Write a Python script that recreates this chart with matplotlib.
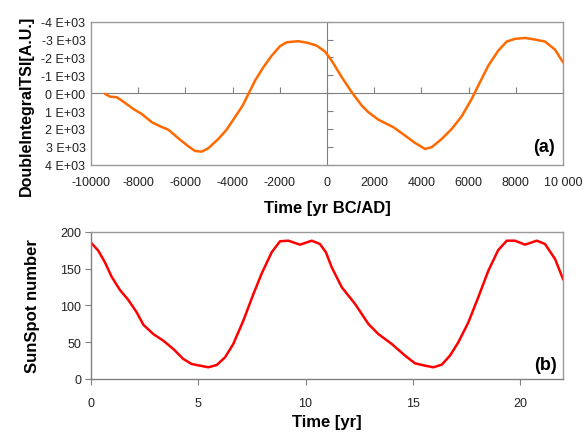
import matplotlib
matplotlib.use("Agg")
import matplotlib.pyplot as plt
from matplotlib.ticker import FuncFormatter, FixedLocator

plt.rcParams['font.family'] = ['Liberation Sans', 'DejaVu Sans']

# Panel (a): double integral of TSI
tsi_year = [-9407, -9195, -8912, -8631, -8208, -7852, -7428, -7076, -6724, -6301,
            -5877, -5593, -5310, -5030, -4606, -4254, -3898, -3573, -3292, -3051,
            -2699, -2343, -1992, -1708, -1216, -792, -437, -85, 199, 623, 1047,
            1470, 1750, 2174, 2809, 3305, 3729, 4153, 4436, 4860, 5284, 5708,
            6131, 6411, 6835, 7258, 7614, 7966, 8390, 8814, 9237, 9661, 10000]
tsi_value = [40, 190, 225, 470, 880, 1160, 1620, 1850, 2040, 2520,
             2970, 3230, 3270, 3080, 2560, 2040, 1340, 690, -60, -700,
             -1450, -2100, -2630, -2850, -2910, -2810, -2660, -2330, -1820, -900, -60,
             690, 1060, 1480, 1900, 2370, 2780, 3120, 3020, 2560, 2000, 1290,
             320, -430, -1540, -2380, -2890, -3040, -3090, -3000, -2890, -2440, -1730]
tsi_yticks = [-4000, -3000, -2000, -1000, 0, 1000, 2000, 3000, 4000]
tsi_xticks = [-10000, -8000, -6000, -4000, -2000, 0, 2000, 4000, 6000, 8000, 10000]

# Panel (b): sunspot number
ss_time = [0.03, 0.34, 0.65, 0.96, 1.35, 1.74, 2.13, 2.44, 2.90, 3.37, 3.84, 4.30,
           4.69, 5.08, 5.47, 5.86, 6.25, 6.63, 7.10, 7.57, 7.96, 8.42, 8.81, 9.2,
           9.74, 10.29, 10.67, 10.95, 11.22, 11.69, 12.31, 12.93, 13.39, 14.02, 14.64,
           15.1, 15.57, 15.96, 16.35, 16.73, 17.12, 17.59, 18.05, 18.52, 18.98,
           19.38, 19.76, 20.23, 20.78, 21.16, 21.63, 22.0]
ss_value = [184.2, 174.2, 158.4, 138.9, 120.8, 107.3, 90.5, 73.7, 61.1, 52, 40.7, 27.2,
            20.4, 18.1, 15.9, 19, 29.5, 47.5, 79.2, 115.4, 143.5, 172, 187, 187.8,
            182.4, 187.8, 183.3, 172, 151.6, 124.5, 101.8, 74.7, 61.1, 47.5, 31.7,
            21.3, 18.1, 15.9, 19.5, 31.7, 49.8, 77, 110.9, 147, 175.1,
            187.8, 187.8, 182.4, 187.8, 183.3, 162.9, 135.8]
ss_yticks = [0, 50, 100, 150, 200]
ss_xticks = [0, 5, 10, 15, 20]

W, H = 587, 435
fig = plt.figure(figsize=(W / 100, H / 100), dpi=100)

box_color = '#9a9a9a'
axis_color = '#808080'
tick_color = '#222222'

# ---------- Panel (a) ----------
pos_a = [91 / W, 1 - 165.7 / H, (563 - 91) / W, (165.7 - 22.7) / H]
ax = fig.add_axes(pos_a)
ax.plot(tsi_year, tsi_value, color='#ff6a00', lw=1.8, solid_capstyle='round',
        solid_joinstyle='round')
ax.set_xlim(-10000, 10000)
ax.set_ylim(4000, -4000)
ax.xaxis.set_major_locator(FixedLocator(tsi_xticks))
ax.yaxis.set_major_locator(FixedLocator(tsi_yticks))

def fmt_x(v, p):
    v = int(round(v))
    if v == 10000:
        return '10 000'
    return str(v)

def fmt_y(v, p):
    v = int(round(v))
    if v == 0:
        return '0 E+00'
    return '%d E+03' % (v // 1000 if v > 0 else -((-v) // 1000))

ax.xaxis.set_major_formatter(FuncFormatter(fmt_x))
ax.yaxis.set_major_formatter(FuncFormatter(fmt_y))
ax.tick_params(length=0, labelsize=9, colors=tick_color, pad=8)
ax.tick_params(axis='y', pad=4)
for s in ax.spines.values():
    s.set_color(box_color)
    s.set_linewidth(1.0)
ax.set_xlabel('Time [yr BC/AD]', fontsize=12, fontweight='bold')
ax.set_ylabel('DoubleIntegralTSI[A.U.]', fontsize=11.5, fontweight='bold')
ax.xaxis.set_label_coords(0.5, -0.245)
ax.yaxis.set_label_coords(-0.122, 0.417)
ax.text(0.983, 0.124, '(a)', transform=ax.transAxes, ha='right', va='center',
        fontsize=13, fontweight='bold')

# overlay axes for the zero lines with ticks
ax2 = fig.add_axes(pos_a, sharex=ax, sharey=ax)
ax2.patch.set_visible(False)
ax2.spines['top'].set_visible(False)
ax2.spines['right'].set_visible(False)
ax2.spines['bottom'].set_position(('data', 0))
ax2.spines['left'].set_position(('data', 0))
ax2.spines['bottom'].set_color(axis_color)
ax2.spines['left'].set_color(axis_color)
ax2.tick_params(direction='in', length=4, color=axis_color,
                labelbottom=False, labelleft=False)
ax2.set_zorder(0)
ax.set_zorder(1)
ax.patch.set_visible(False)

# ---------- Panel (b) ----------
pos_b = [91 / W, 1 - 380 / H, (563 - 91) / W, (380 - 232.7) / H]
bx = fig.add_axes(pos_b)
bx.plot(ss_time, ss_value, color='#ff0000', lw=1.8, solid_joinstyle='round')
bx.set_xlim(0, 22)
bx.set_ylim(0, 200)
bx.xaxis.set_major_locator(FixedLocator(ss_xticks))
bx.yaxis.set_major_locator(FixedLocator(ss_yticks))
bx.tick_params(direction='out', length=4, color=axis_color, labelsize=9,
               labelcolor=tick_color)
bx.tick_params(axis='x', pad=9)
bx.tick_params(axis='y', pad=3)
for s in bx.spines.values():
    s.set_color(box_color)
    s.set_linewidth(1.0)
bx.spines['left'].set_color(axis_color)
bx.spines['bottom'].set_color(axis_color)
bx.set_xlabel('Time [yr]', fontsize=12, fontweight='bold')
bx.set_ylabel('SunSpot number', fontsize=12, fontweight='bold')
bx.xaxis.set_label_coords(0.5, -0.238)
bx.yaxis.set_label_coords(-0.108, 0.5)
bx.text(0.987, 0.098, '(b)', transform=bx.transAxes, ha='right', va='center',
        fontsize=13, fontweight='bold')

fig.savefig('out.png', dpi=100)
